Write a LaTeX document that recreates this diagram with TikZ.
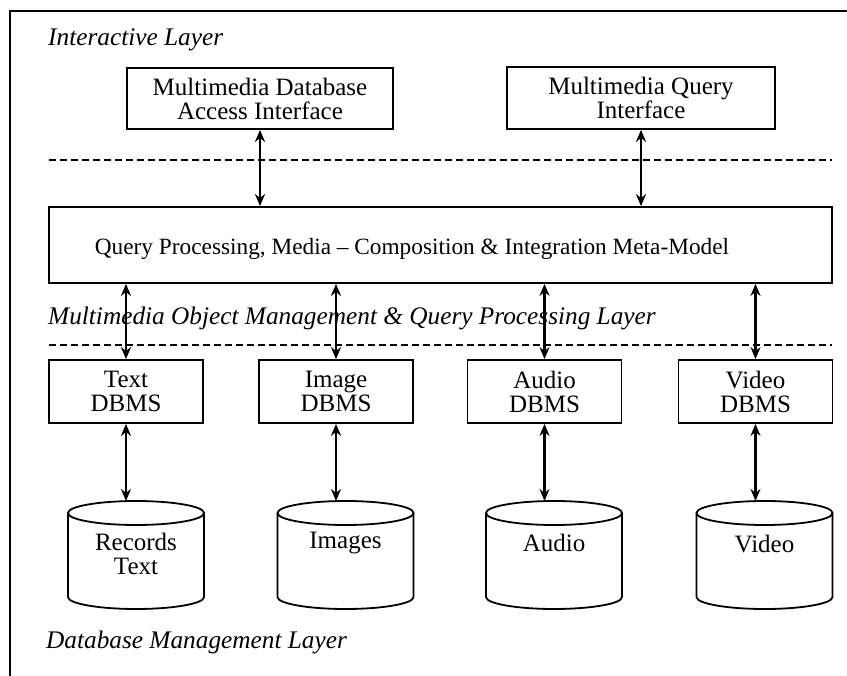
\documentclass[tikz,border=0pt]{standalone}
\usepackage{fontspec}
\setmainfont{Liberation Serif}
\usetikzlibrary{arrows.meta}
\begin{document}
\begin{tikzpicture}[x=1pt,y=1pt,
  box/.style={draw, line width=1.8pt, inner sep=0pt, align=center, font=\fontsize{25}{24}\selectfont},
  plain/.style={inner sep=0pt, align=center, font=\fontsize{25}{24}\selectfont},
  lay/.style={anchor=west, inner sep=0pt, font=\fontsize{25.3}{26}\selectfont\itshape},
  link/.style={line width=2.2pt, {Stealth[length=12pt,width=10pt]}-{Stealth[length=12pt,width=10pt]}},
  sep/.style={line width=1.3pt, dash pattern=on 7pt off 4pt},
  drum/.style={line width=1.8pt},
  frame/.style={line width=2.6pt}]
\useasboundingbox (0,0) rectangle (847,-676);
% frame
\coordinate (fbl) at (10,-676);
\coordinate (ftl) at (10,-11);
\coordinate (ftr) at (847,-11);
\draw[frame] (fbl) -- (ftl) -- (ftr);
% layer labels
\node[lay] (l1) at (48,-40) {Interactive Layer};
\node[lay] (l2) at (48,-318) {Multimedia Object Management \& Query Processing Layer};
\node[lay] (l3) at (46,-642) {Database Management Layer};
% separators
\coordinate (s1a) at (49,-160); \coordinate (s1b) at (832,-160);
\coordinate (s2a) at (49,-345); \coordinate (s2b) at (832,-345);
\draw[sep] (s1a) -- (s1b);
\draw[sep] (s2a) -- (s2b);
% top boxes
\node[box, minimum width=266pt, minimum height=61pt] (mdai) at (260,-98.5) {Multimedia Database\\Access Interface};
\node[box, minimum width=268pt, minimum height=62pt] (mqi) at (641,-98) {Multimedia Query\\Interface\hspace*{0pt}};
% big box
\node[draw, line width=1.8pt, inner sep=0pt, minimum width=783pt, minimum height=76pt] (qp) at (440.5,-245) {};
\node[inner sep=0pt, font=\fontsize{23.3}{24}\selectfont] (qpt) at (412,-249) {Query Processing, Media -- Composition \& Integration Meta-Model};
% DBMS boxes
\foreach \n/\cx/\t in {tdb/126/Text, idb/336/Image, adb/544.5/Audio, vdb/755.5/Video}{
  \node[box, minimum width=154pt, minimum height=63pt] (\n) at (\cx,-391.5) {\t\\DBMS};
}
% cylinders
\foreach \n/\cx in {rc/136, ic/345.5, ac/554, vc/764.5}{
  \draw[drum] (\cx-68,-513) -- (\cx-68,-597) arc[start angle=180, end angle=360, x radius=68, y radius=12] -- (\cx+68,-513);
  \draw[drum] (\cx,-513) ellipse[x radius=68, y radius=12];
}
\node[plain] (rct) at (136,-553.5) {Records\\Text};
\node[plain] (ict) at (345.5,-543) {Images};
\node[plain] (act) at (554,-543) {Audio};
\node[plain] (vct) at (764.5,-544) {Video};
% cylinder tops for links
\coordinate (rtop) at (126,-501);
\coordinate (itop) at (336,-501);
\coordinate (atop) at (544.5,-501);
\coordinate (vtop) at (755.5,-501);
% links
\draw[link] (mdai.south) -- (mdai.south |- qp.north);
\draw[link] (mqi.south) -- (mqi.south |- qp.north);
\draw[link] (tdb.north |- qp.south) -- (tdb.north);
\draw[link] (idb.north |- qp.south) -- (idb.north);
\draw[link] (adb.north |- qp.south) -- (adb.north);
\draw[link] (vdb.north |- qp.south) -- (vdb.north);
\draw[link] (tdb.south) -- (rtop);
\draw[link] (idb.south) -- (itop);
\draw[link] (adb.south) -- (atop);
\draw[link] (vdb.south) -- (vtop);
\end{tikzpicture}
\end{document}
